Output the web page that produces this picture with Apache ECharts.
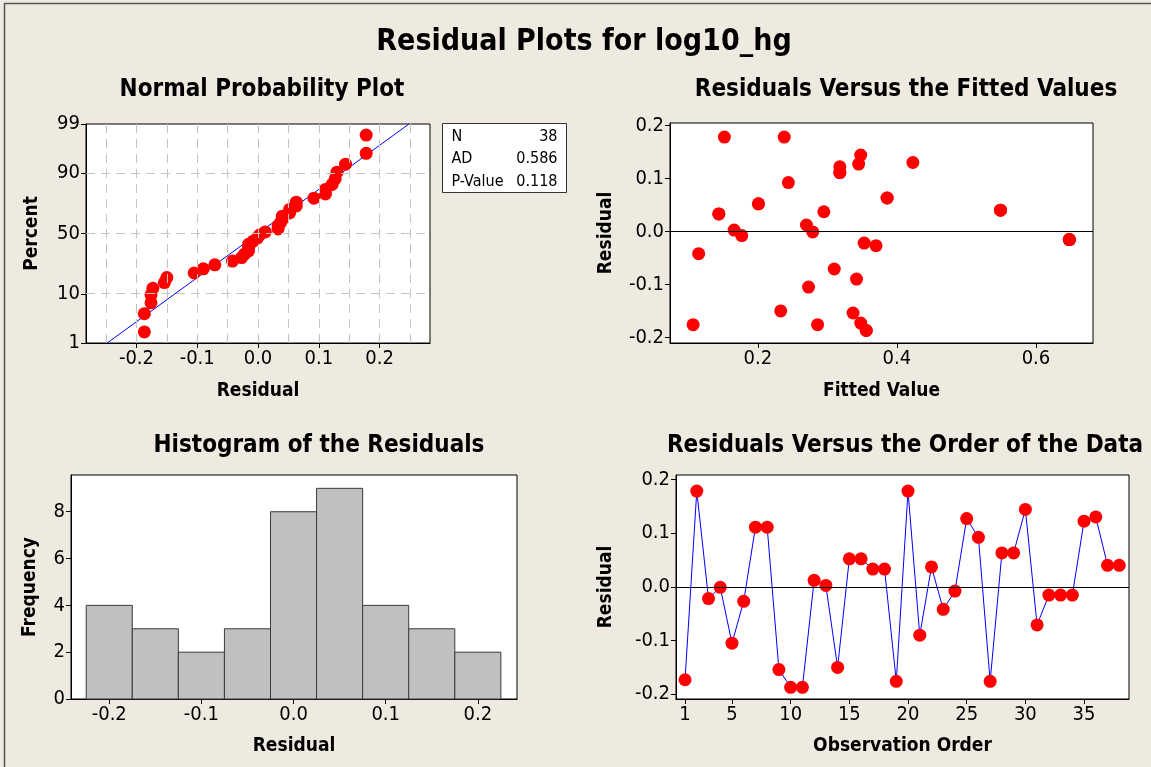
<!DOCTYPE html>
<html>
<head>
<meta charset="utf-8">
<script src="https://cdn.jsdelivr.net/npm/echarts@6/dist/echarts.min.js"></script>
<style>
html,body{margin:0;padding:0;background:#EEEAE0;}
#chart{width:1151px;height:767px;}
</style>
</head>
<body>
<div id="chart"></div>
<script>
// ---- Data ----
const observationOrder = [1,2,3,4,5,6,7,8,9,10,11,12,13,14,15,16,17,18,19,20,21,22,23,24,25,26,27,28,29,30,31,32,33,34,35,36,37,38];
const residuals = [-0.173,0.178,-0.022,-0.001,-0.105,-0.027,0.111,0.111,-0.154,-0.187,
                   -0.187,0.012,0.0025,-0.150,0.052,0.052,0.033,0.033,-0.176,0.178,
                   -0.090,0.037,-0.042,-0.008,0.127,0.092,-0.176,0.063,0.063,0.144,
                   -0.071,-0.0155,-0.0155,-0.0155,0.122,0.130,0.040,0.040];
const fittedValues = [0.348,0.152,0.353,0.279,0.273,0.370,0.318,0.318,0.337,0.356,
                      0.356,0.270,0.166,0.233,0.201,0.201,0.144,0.144,0.286,0.238,
                      0.342,0.295,0.115,0.177,0.345,0.244,0.107,0.386,0.386,0.348,
                      0.310,0.648,0.648,0.648,0.318,0.423,0.549,0.549];
const histBinCenters = [-0.2,-0.15,-0.1,-0.05,0.0,0.05,0.1,0.15,0.2];
const histCounts = [4,3,2,3,8,9,4,3,2];
const histBinWidth = 0.05;

const nppPercentTicks = [1,10,50,90,99];
const nppPercentGrid = [10,50,90];
const nppResidualTicks = [-0.2,-0.1,0.0,0.1,0.2];
const nppResidualGrid = [-0.25,-0.2,-0.15,-0.1,-0.05,0,0.05,0.1,0.15,0.2,0.25];
const fittedTicks = [0.2,0.4,0.6];
const residualTicks = [-0.2,-0.1,0.0,0.1,0.2];
const freqTicks = [0,2,4,6,8];
const orderTicks = [1,5,10,15,20,25,30,35];

const statLabels = ['N','AD','P-Value'];
const statValues = ['38','0.586','0.118'];

// ---- inverse normal CDF (probability scale) ----
function qnorm(p){
  const a=[-3.969683028665376e+01,2.209460984245205e+02,-2.759285104469687e+02,1.383577518672690e+02,-3.066479806614716e+01,2.506628277459239e+00];
  const b=[-5.447609879822406e+01,1.615858368580409e+02,-1.556989798598866e+02,6.680131188771972e+01,-1.328068155288572e+01];
  const c=[-7.784894002430293e-03,-3.223964580411365e-01,-2.400758277161838e+00,-2.549732539343734e+00,4.374664141464968e+00,2.938163982698783e+00];
  const d=[7.784695709041462e-03,3.224671290700398e-01,2.445134137142996e+00,3.754408661907416e+00];
  const pl=0.02425, ph=1-pl; let q,r;
  if(p<pl){q=Math.sqrt(-2*Math.log(p));return (((((c[0]*q+c[1])*q+c[2])*q+c[3])*q+c[4])*q+c[5])/((((d[0]*q+d[1])*q+d[2])*q+d[3])*q+1);}
  if(p<=ph){q=p-0.5;r=q*q;return (((((a[0]*r+a[1])*r+a[2])*r+a[3])*r+a[4])*r+a[5])*q/(((((b[0]*r+b[1])*r+b[2])*r+b[3])*r+b[4])*r+1);}
  q=Math.sqrt(-2*Math.log(1-p));return -(((((c[0]*q+c[1])*q+c[2])*q+c[3])*q+c[4])*q+c[5])/((((d[0]*q+d[1])*q+d[2])*q+d[3])*q+1);
}

const n = residuals.length;
const sorted = residuals.slice().sort((x,y)=>x-y);
const nppData = sorted.map((v,i)=>[v, qnorm((i+1-0.3)/(n+0.4))]);
const mean = residuals.reduce((s,v)=>s+v,0)/n;
const sd = Math.sqrt(residuals.reduce((s,v)=>s+(v-mean)*(v-mean),0)/(n-1));
const zLo = qnorm(0.01), zHi = qnorm(0.99);
const nppLine = [[mean+sd*zLo, zLo],[mean+sd*zHi, zHi]];

const FONT = 'DejaVu Sans Condensed';
const labelStyle = {color:'#000', fontSize:20, fontFamily:FONT};
const nameStyle = {color:'#000', fontSize:19, fontWeight:'bold', fontFamily:FONT};

function xAx(grid, min, max, ticks, fmt, name, gap){
  return {type:'value', gridIndex:grid, min:min, max:max, name:name, nameLocation:'middle', nameGap:gap,
    nameTextStyle:nameStyle,
    axisLine:{show:true, onZero:false, lineStyle:{color:'#000',width:1}},
    axisTick:{show:true, length:5, inside:false, customValues:ticks, lineStyle:{color:'#000'}},
    axisLabel:Object.assign({show:true, margin:6, customValues:ticks, formatter:fmt, showMinLabel:true, showMaxLabel:true}, labelStyle),
    splitLine:{show:false}};
}
function yAx(grid, min, max, ticks, fmt, name, gap){
  return {type:'value', gridIndex:grid, min:min, max:max, name:name, nameLocation:'middle', nameGap:gap, nameRotate:90,
    nameTextStyle:nameStyle,
    axisLine:{show:true, onZero:false, lineStyle:{color:'#000',width:1}},
    axisTick:{show:true, length:5, inside:false, customValues:ticks, lineStyle:{color:'#000'}},
    axisLabel:Object.assign({show:true, margin:6, customValues:ticks, formatter:fmt, showMinLabel:true, showMaxLabel:true}, labelStyle),
    splitLine:{show:false}};
}
const f1 = v => (Math.abs(v)<1e-9?0:v).toFixed(1);
const pctFmt = v => { for(const p of nppPercentTicks){ if(Math.abs(qnorm(p/100)-v)<1e-6) return String(p);} return ''; };

const gridBox = {show:true, backgroundColor:'#fff', borderColor:'#000', borderWidth:1, containLabel:false};
const titleStyle = {color:'#000', fontSize:24, fontWeight:'bold', fontFamily:FONT};
const dot = {color:'#FF0000', opacity:1};

const option = {
  animation:false,
  backgroundColor:'#EEEAE0',
  title:[
    {text:'Residual Plots for log10_hg', left:579, top:22, textAlign:'center', textStyle:{color:'#000', fontSize:30, fontWeight:'bold', fontFamily:FONT}},
    {text:'Normal Probability Plot', left:257, top:73, textAlign:'center', textStyle:titleStyle},
    {text:'Residuals Versus the Fitted Values', left:901, top:73, textAlign:'center', textStyle:titleStyle},
    {text:'Histogram of the Residuals', left:314, top:429, textAlign:'center', textStyle:titleStyle},
    {text:'Residuals Versus the Order of the Data', left:900, top:429, textAlign:'center', textStyle:titleStyle}
  ],
  grid:[
    Object.assign({left:86, top:124, width:344, height:219}, gridBox),
    Object.assign({left:670, top:123, width:423, height:220}, gridBox),
    Object.assign({left:71, top:475, width:446, height:224}, gridBox),
    Object.assign({left:676, top:475, width:453, height:224}, gridBox)
  ],
  xAxis:[
    xAx(0, -0.283, 0.283, nppResidualTicks, f1, 'Residual', 39),
    xAx(1, 0.0738, 0.682, fittedTicks, f1, 'Fitted Value', 39),
    xAx(2, -0.2415, 0.2425, residualTicks, f1, 'Residual', 38),
    xAx(3, 0.23, 38.83, orderTicks, v=>String(Math.round(v)), 'Observation Order', 38)
  ],
  yAxis:[
    yAx(0, zLo, zHi, nppPercentTicks.map(p=>qnorm(p/100)), pctFmt, 'Percent', 44),
    yAx(1, -0.2106, 0.2045, residualTicks, f1, 'Residual', 54),
    yAx(2, 0, 9.57, freqTicks, v=>String(Math.round(v)), 'Frequency', 31),
    yAx(3, -0.2088, 0.208, residualTicks, f1, 'Residual', 60)
  ],
  graphic:[
    {type:'line', shape:{x1:4, y1:3.5, x2:1151, y2:3.5}, style:{stroke:'#555', lineWidth:1.5}, silent:true},
    {type:'line', shape:{x1:4.5, y1:3, x2:4.5, y2:767}, style:{stroke:'#555', lineWidth:1.5}, silent:true},
    {type:'group', left:442, top:123, children:[
      {type:'rect', shape:{x:0, y:0, width:124, height:69}, style:{fill:'#fff', stroke:'#333', lineWidth:1}},
      ...statLabels.map((t,i)=>({type:'text', x:9, y:13+i*22.5, style:{text:t, fill:'#000', font:'16px "'+FONT+'"', verticalAlign:'middle', align:'left'}})),
      ...statValues.map((t,i)=>({type:'text', x:115, y:13+i*22.5, style:{text:t, fill:'#000', font:'16px "'+FONT+'"', verticalAlign:'middle', align:'right'}}))
    ]}
  ],
  series:[
    {type:'line', xAxisIndex:0, yAxisIndex:0, data:nppLine, symbol:'none', lineStyle:{color:'#0000FF', width:1}, z:3,
      markLine:{silent:true, symbol:['none','none'], label:{show:false}, animation:false,
        lineStyle:{color:'#C4C4C4', type:[9,6], width:1},
        data:[...nppResidualGrid.map(v=>({xAxis:v})), ...nppPercentGrid.map(p=>({yAxis:qnorm(p/100)}))]}},
    {type:'scatter', xAxisIndex:0, yAxisIndex:0, data:nppData, symbol:'circle', symbolSize:13, itemStyle:dot, z:4},
    {type:'scatter', xAxisIndex:1, yAxisIndex:1, data:fittedValues.map((f,i)=>[f, residuals[i]]), symbol:'circle', symbolSize:13, itemStyle:dot, z:4,
      markLine:{silent:true, symbol:['none','none'], label:{show:false}, animation:false, lineStyle:{color:'#000', type:'solid', width:1}, data:[{yAxis:0}]}},
    {type:'custom', xAxisIndex:2, yAxisIndex:2, data:histBinCenters.map((c,i)=>[c, histCounts[i]]),
      renderItem:function(params, api){
        const c = api.value(0), h = api.value(1);
        const p0 = api.coord([c - histBinWidth/2, 0]);
        const p1 = api.coord([c + histBinWidth/2, h]);
        return {type:'rect', shape:{x:p0[0], y:p1[1], width:p1[0]-p0[0], height:p0[1]-p1[1]},
          style:{fill:'#C0C0C0', stroke:'#3A3A3A', lineWidth:1}};
      }},
    {type:'line', xAxisIndex:3, yAxisIndex:3, data:observationOrder.map((o,i)=>[o, residuals[i]]), symbol:'circle', symbolSize:13, showAllSymbol:true,
      itemStyle:dot, lineStyle:{color:'#0000FF', width:1}, z:4,
      markLine:{silent:true, symbol:['none','none'], label:{show:false}, animation:false, lineStyle:{color:'#000', type:'solid', width:1}, data:[{yAxis:0}]}}
  ]
};
const chart = echarts.init(document.getElementById('chart'), null, {renderer:'canvas'});
chart.setOption(option);
</script>
</body>
</html>
